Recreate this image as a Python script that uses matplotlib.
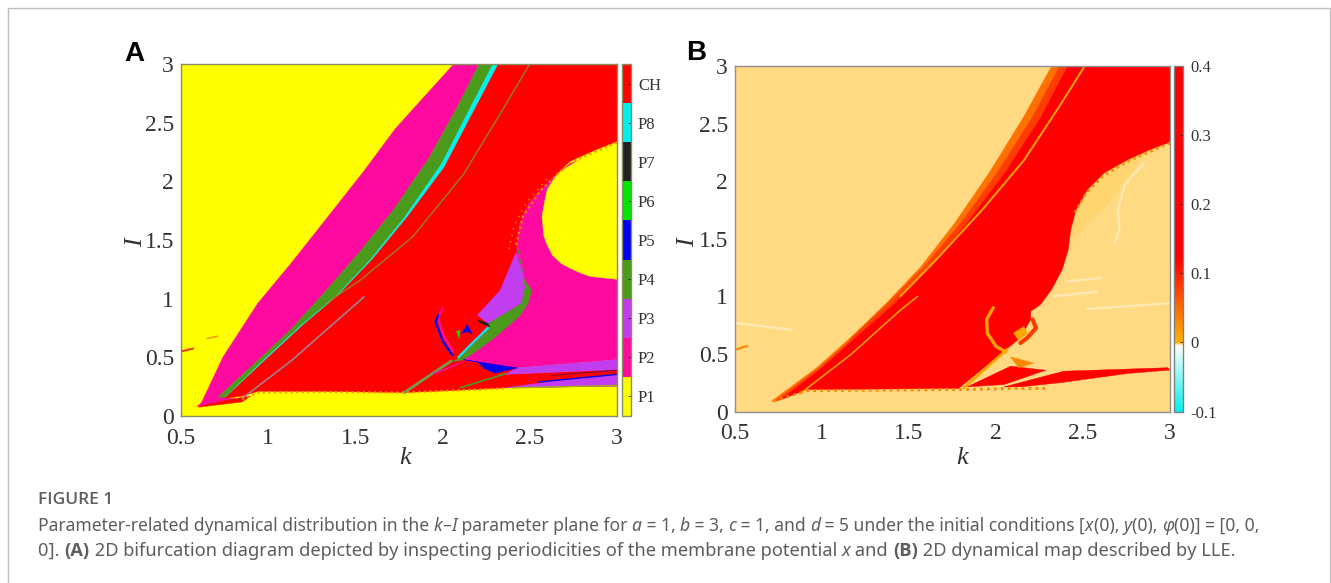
import matplotlib
matplotlib.use("Agg")
import matplotlib.pyplot as plt
import numpy as np
from matplotlib.colors import ListedColormap, BoundaryNorm, LinearSegmentedColormap, Normalize
from matplotlib.cm import ScalarMappable

plt.rcParams['font.family'] = ['Liberation Serif', 'DejaVu Serif']

W, H = 1331, 583

# panel A, colour classes
class_names = ['P1', 'P2', 'P3', 'P4', 'P5', 'P6', 'P7', 'P8', 'CH']
class_colors = ['#ffff00', '#ff0aa0', '#c23cf0', '#4c9a1c', '#0000f0', '#00e600', '#222222', '#00f0f0', '#ff0000']
P1, P2, P3, P4, P5, P6, P7, P8, CH = class_colors

# boundaries, (k, I)
p2_left = [(0.61, 0.09), (0.74, 0.5), (0.94, 0.96), (1.136, 1.31), (1.37, 1.75), (1.55, 2.09), (1.73, 2.45), (1.9, 2.73), (2.065, 3.0)]
p4_left = [(0.69, 0.13), (0.925, 0.45), (1.125, 0.73), (1.315, 1.04), (1.515, 1.38), (1.715, 1.75), (1.915, 2.18), (2.08, 2.62), (2.21, 3.0)]
p4_right = [(0.74, 0.14), (0.99, 0.50), (1.19, 0.775), (1.385, 1.015), (1.585, 1.33), (1.785, 1.70), (1.995, 2.15), (2.17, 2.66), (2.29, 3.0)]
p8_right = [(0.75, 0.15), (1.0, 0.50), (1.2, 0.775), (1.395, 1.02), (1.595, 1.33), (1.8, 1.70), (2.01, 2.12), (2.195, 2.645), (2.32, 3.0)]
p2_bottom_tip = [(0.59, 0.08), (0.64, 0.09), (0.85, 0.14), (0.72, 0.16), (0.64, 0.14)]
ch_tip = [(0.6, 0.075), (0.85, 0.12), (0.9, 0.17), (0.78, 0.14), (0.62, 0.09)]

p2_right = [(3.0, 2.3), (2.73, 2.15), (2.645, 2.05), (2.56, 1.93), (2.49, 1.81), (2.44, 1.64), (2.425, 1.47), (2.0, 0.48), (2.43, 0.41), (3.0, 0.48)]
p1_island = [(3.0, 2.33), (2.88, 2.26), (2.77, 2.17), (2.66, 2.07), (2.60, 1.93), (2.587, 1.84), (2.57, 1.70), (2.58, 1.54), (2.596, 1.47), (2.63, 1.37),
             (2.68, 1.30), (2.73, 1.26), (2.79, 1.22), (2.845, 1.19), (3.0, 1.165)]
ch_right = [(2.32, 3.0), (3.0, 3.0), (3.0, 2.34), (2.88, 2.27), (2.73, 2.17), (2.645, 2.05), (2.56, 1.93), (2.49, 1.81), (2.44, 1.64), (2.425, 1.47), (2.42, 1.39),
            (2.33, 1.07), (2.2, 0.86), (2.26, 0.78), (2.09, 0.49), (1.78, 0.2), (1.3, 0.21), (0.94, 0.21), (0.85, 0.17)]
p3_upper = [(2.42, 1.39), (2.46, 1.22), (2.47, 1.09), (2.45, 0.96), (2.32, 0.845), (2.26, 0.79), (2.2, 0.86), (2.33, 1.07)]
p4_outer = [(2.425, 1.47), (2.47, 1.16), (2.51, 1.07), (2.49, 0.96), (2.44, 0.85), (2.30, 0.67), (2.2, 0.56), (2.12, 0.48), (2.05, 0.46),
            (2.1, 0.5), (2.25, 0.72), (2.26, 0.79), (2.32, 0.845), (2.45, 0.96), (2.47, 1.09), (2.46, 1.22)]
ch_wedge = [(1.78, 0.2), (2.05, 0.46), (2.12, 0.47), (2.43, 0.41), (2.36, 0.355), (3.0, 0.40), (3.0, 0.255), (2.36, 0.24), (2.1, 0.22)]
p3_band = [(2.43, 0.41), (3.0, 0.48), (3.0, 0.395), (2.36, 0.355)]
p3_lower = [(2.36, 0.24), (2.7, 0.31), (3.0, 0.35), (3.0, 0.255)]
p5_tri = [(2.12, 0.48), (2.43, 0.41), (2.3, 0.365), (2.24, 0.405), (2.2, 0.46)]
p5_diamond = [(2.14, 0.78), (2.17, 0.70), (2.14, 0.72), (2.11, 0.70)]
p6_small = [(2.08, 0.72), (2.1, 0.73), (2.095, 0.66)]
p7_blob = [(2.2, 0.82), (2.26, 0.79), (2.27, 0.76), (2.22, 0.79)]

thin_long_a = [(2.5, 3.0), (2.32, 2.55), (2.12, 2.06), (1.83, 1.53), (1.53, 1.16), (1.33, 0.96)]
thin_short_a = [(1.55, 1.015), (1.33, 0.73), (1.14, 0.48), (0.86, 0.16)]
p8_thin = [(2.26, 0.75), (2.17, 0.62), (2.09, 0.50)]
p4_thin = [(2.05, 0.47), (1.78, 0.2)]
p4_edge = [(2.1, 0.24), (2.36, 0.36)]
p5_arc = [(1.975, 0.86), (1.96, 0.80), (2.0, 0.64), (2.055, 0.52)]
p2_arc = [(2.0, 0.92), (1.975, 0.84), (2.0, 0.70), (2.06, 0.55)]
p5_line = [(2.55, 0.29), (3.0, 0.355)]
p7_line = [(2.62, 0.345), (3.0, 0.39)]
p2_streak = [(1.95, 0.36), (2.1, 0.45)]
p4_floor = [(2.4, 0.24), (3.0, 0.26)]
ch_dash1 = [(0.5, 0.55), (0.57, 0.575)]
ch_dash2 = [(0.65, 0.66), (0.71, 0.68)]
edge_bottom_a = [(0.85, 0.14), (0.94, 0.2), (1.3, 0.205), (1.78, 0.2), (2.36, 0.235)]
edge_right_a = [(3.0, 2.33), (2.73, 2.16), (2.56, 1.92), (2.46, 1.7), (2.42, 1.45)]
edge_inner_a = [(2.6, 2.02), (2.48, 1.82), (2.41, 1.62), (2.38, 1.42)]

# panel B, LLE levels
lle_ticks = [-0.1, 0, 0.1, 0.2, 0.3, 0.4]
lle_bg = -0.0025
lle_speck = -0.00215
lle_yellow = 0.01
lle_orange = 0.03
lle_band_out = 0.045
lle_band = 0.08
lle_red = 0.3
lle_pale = -0.0035

band_left = [(0.71, 0.09), (0.97, 0.38), (1.17, 0.65), (1.37, 0.94), (1.57, 1.26), (1.76, 1.63), (1.96, 2.07), (2.16, 2.56), (2.32, 3.0)]
band_mid = [(0.73, 0.09), (0.985, 0.38), (1.185, 0.65), (1.39, 0.94), (1.6, 1.26), (1.795, 1.63), (2.005, 2.07), (2.21, 2.56), (2.365, 3.0)]
band_right = [(0.76, 0.1), (1.0, 0.38), (1.2, 0.65), (1.42, 0.94), (1.63, 1.26), (1.83, 1.63), (2.05, 2.07), (2.26, 2.56), (2.41, 3.0)]
red_b = [(2.41, 3.0), (3.0, 3.0), (3.0, 2.34), (2.88, 2.27), (2.756, 2.185), (2.62, 2.07), (2.525, 1.925), (2.46, 1.75), (2.43, 1.58), (2.415, 1.405), (2.38, 1.23),
         (2.32, 1.06), (2.257, 0.93), (2.2, 0.87), (2.2, 0.8), (2.14, 0.64), (2.06, 0.54), (1.785, 0.2), (0.91, 0.19)]
speck_b = [(3.0, 2.34), (2.85, 2.22), (2.74, 2.0), (2.62, 1.76), (2.5, 1.6), (2.42, 1.42), (2.43, 1.58), (2.46, 1.75), (2.525, 1.925), (2.62, 2.07), (2.756, 2.185), (2.88, 2.27)]
wedge_b = [(1.834, 0.214), (2.084, 0.393), (2.286, 0.358), (2.046, 0.234)]
wedge2_b = [(2.046, 0.214), (2.39, 0.35), (2.986, 0.38), (3.0, 0.36), (2.756, 0.33), (2.37, 0.25), (2.14, 0.214)]
tri_b = [(2.084, 0.474), (2.218, 0.42), (2.13, 0.38)]
arc_b = [(1.984, 0.90), (1.946, 0.80), (1.95, 0.68), (2.0, 0.566), (2.055, 0.517)]
yellow_edge_b = [(1.815, 0.205), (2.065, 0.54)]
line1_b = [(2.51, 3.0), (2.36, 2.64), (2.16, 2.18), (1.92, 1.75), (1.67, 1.34), (1.45, 1.0)]
line2_b = [(1.55, 1.0), (1.45, 0.88), (1.17, 0.5), (0.87, 0.15)]
line3_b = [(2.41, 3.0), (2.22, 2.5), (2.0, 2.0), (1.78, 1.6), (1.58, 1.24), (1.38, 0.94), (1.16, 0.62)]
edge_b = [(3.0, 2.33), (2.756, 2.17), (2.62, 2.05), (2.52, 1.9), (2.45, 1.72)]
floor_b = [(0.72, 0.09), (0.91, 0.18), (1.78, 0.19), (2.1, 0.2), (2.3, 0.2)]
ring_b = [(2.21, 0.80), (2.23, 0.725), (2.18, 0.64), (2.14, 0.595)]
hole_b = [(2.16, 0.74), (2.18, 0.68), (2.13, 0.62), (2.1, 0.68)]
streak1 = [(2.85, 2.156), (2.74, 1.97), (2.70, 1.75), (2.71, 1.58), (2.68, 1.46)]
streak2 = [(2.42, 1.13), (2.6, 1.16)]
streak3 = [(2.33, 1.0), (2.58, 1.04)]
streak4 = [(2.52, 0.89), (3.0, 0.94)]
streak5 = [(0.5, 0.77), (0.82, 0.71)]
dash_b = [(0.51, 0.54), (0.57, 0.57)]

k_ticks = [0.5, 1, 1.5, 2, 2.5, 3]
i_ticks = [0, 0.5, 1, 1.5, 2, 2.5, 3]
tick_labels_k = ['0.5', '1', '1.5', '2', '2.5', '3']
tick_labels_i = ['0', '0.5', '1', '1.5', '2', '2.5', '3']


def fill(ax, pts, color):
    xs, ys = zip(*pts)
    ax.fill(xs, ys, color=color, lw=0.3)


def line(ax, pts, color, lw, ls='-'):
    xs, ys = zip(*pts)
    ax.plot(xs, ys, color=color, lw=lw, ls=ls, solid_capstyle='round')


def px_axes(x0, x1, y0, y1):
    return fig.add_axes([x0 / W, 1 - y1 / H, (x1 - x0) / W, (y1 - y0) / H])


def style(ax, edge):
    ax.set_xlim(0.5, 3)
    ax.set_ylim(0, 3)
    ax.set_xticks(k_ticks, tick_labels_k)
    ax.set_yticks(i_ticks, tick_labels_i)
    ax.tick_params(direction='in', length=0, labelsize=17, labelcolor='#333333')
    ax.tick_params(axis='x', pad=8.5)
    ax.tick_params(axis='y', pad=5)
    for s in ax.spines.values():
        s.set_color(edge)
        s.set_linewidth(1.0)


def labels(ax, x0, x1, y0, y1, kx, ilx):
    ax.set_xlabel('k', fontsize=19, style='italic', color='#333333', va='center')
    ax.xaxis.set_label_coords((kx - x0) / (x1 - x0), -(458 - y1) / (y1 - y0))
    ax.set_ylabel('I', fontsize=19, style='italic', color='#333333', va='center')
    ax.yaxis.set_label_coords((ilx - x0) / (x1 - x0), (y1 - 243) / (y1 - y0))


fig = plt.figure(figsize=(W / 100, H / 100), dpi=100, facecolor='white')

# ---------- panel A
ax = px_axes(181, 617, 64, 416)
ax.set_facecolor(P1)
style(ax, '#8c8c5a')
fill(ax, p2_left + p4_left[::-1], P2)
fill(ax, p4_left + p4_right[::-1], P4)
fill(ax, p4_right + p8_right[::-1], P8)
fill(ax, p2_bottom_tip, P2)
fill(ax, p2_right, P2)
fill(ax, p1_island, P1)
fill(ax, ch_right + p8_right[:-1], CH)
fill(ax, ch_tip, CH)
fill(ax, p4_outer, P4)
fill(ax, p3_upper, P3)
fill(ax, ch_wedge, CH)
fill(ax, p3_band, P3)
fill(ax, p3_lower, P3)
fill(ax, p5_tri, P5)
fill(ax, p5_diamond, P5)
fill(ax, p6_small, P6)
fill(ax, p7_blob, P7)
line(ax, thin_long_a, '#8c8c20', 0.9)
line(ax, thin_short_a, '#a08090', 1.2)
line(ax, p8_thin, P8, 1.6)
line(ax, p4_thin, '#6f9a50', 2.0)
line(ax, p4_edge, P4, 1.2)
line(ax, p2_arc, P2, 1.6)
line(ax, p5_arc, P5, 1.6)
line(ax, p5_line, P5, 1.0)
line(ax, p7_line, '#701040', 0.7)
line(ax, p2_streak, P2, 1.2)
line(ax, p4_floor, '#a0b010', 1.0)
line(ax, ch_dash1, '#f04010', 1.5)
line(ax, ch_dash2, '#f0a010', 1.2)
line(ax, edge_bottom_a, '#ff9000', 1.6, (0, (1, 1.5)))
line(ax, edge_right_a, '#ff9000', 1.6, (0, (1, 1.5)))
line(ax, edge_inner_a, '#ff7000', 1.2, (0, (1, 3)))
labels(ax, 181, 617, 64, 416, 405, 136)

cax = px_axes(622, 631, 64, 416)
cmap_a = ListedColormap(class_colors)
norm_a = BoundaryNorm(np.arange(len(class_names) + 1), cmap_a.N)
cb = fig.colorbar(ScalarMappable(norm=norm_a, cmap=cmap_a), cax=cax, ticks=np.arange(len(class_names)) + 0.5, drawedges=False)
cb.ax.set_yticklabels(class_names)
cb.ax.tick_params(direction='in', length=2, width=0.6, labelsize=12, labelcolor='#333333', pad=5, color='#222222')
cb.ax.minorticks_off()
cb.outline.set_edgecolor('#8c8c5a')
cb.outline.set_linewidth(1.0)

# ---------- panel B
cmap_b = LinearSegmentedColormap.from_list(
    'lle', [(0.0, '#00f0f0'), (0.19, '#ffffff'), (0.2, '#ffb400'), (0.44, '#ff0000'), (1.0, '#ff0000')], N=4096)
norm_b = Normalize(-0.1, 0.4)
c = lambda v: cmap_b(norm_b(v))

ax2 = px_axes(735, 1170, 66, 411.5)
ax2.set_facecolor(c(lle_bg))
style(ax2, '#909090')
fill(ax2, speck_b, c(lle_speck))
fill(ax2, band_left + band_mid[::-1], c(lle_band_out))
fill(ax2, band_mid + band_right[::-1], c(lle_band))
fill(ax2, red_b + band_right[:-1], c(lle_red))
fill(ax2, wedge_b, c(lle_red))
fill(ax2, wedge2_b, c(lle_red))
fill(ax2, tri_b, c(lle_orange))
line(ax2, yellow_edge_b, c(lle_yellow), 2.0)
line(ax2, arc_b, c(lle_yellow), 2.4)
line(ax2, ring_b, c(lle_band), 3.0)
fill(ax2, hole_b, c(lle_yellow))
line(ax2, line1_b, c(lle_yellow), 1.4)
line(ax2, line2_b, c(lle_yellow), 1.1)
line(ax2, line3_b, c(lle_band), 0.8)
line(ax2, edge_b, c(lle_orange), 1.8, (0, (1, 1.5)))
line(ax2, floor_b, c(lle_orange), 2.0, (0, (1, 1.5)))
for s in (streak1, streak2, streak3, streak4, streak5):
    line(ax2, s, c(lle_pale), 1.6)
line(ax2, dash_b, c(lle_orange), 1.6)
labels(ax2, 735, 1170, 66, 411.5, 962, 688)

cax2 = px_axes(1174, 1183, 66, 411.5)
cb2 = fig.colorbar(ScalarMappable(norm=norm_b, cmap=cmap_b), cax=cax2, ticks=lle_ticks)
cb2.ax.set_yticklabels(['-0.1', '0', '0.1', '0.2', '0.3', '0.4'])
cb2.ax.tick_params(direction='in', length=2, width=0.6, labelsize=12, labelcolor='#333333', pad=5, color='#222222')
cb2.outline.set_edgecolor('#808080')
cb2.outline.set_linewidth(1.0)

# panel letters
fig.text(124 / W, 1 - 61 / H, 'A', family='Liberation Sans', weight='bold', fontsize=20, color='black')
fig.text(686 / W, 1 - 60 / H, 'B', family='Liberation Sans', weight='bold', fontsize=20, color='black')

# caption, written run by run so italics and bold sit in the same line
cap = '#5e5e5e'
r = fig.canvas.get_renderer()


def run_line(x, y, size, runs):
    for txt, kw in runs:
        kw = {'family': 'Noto Sans', **kw}
        fig.text(x / W, 1 - y / H, txt, fontsize=size, color=cap, va='center', **kw)
        probe = fig.text(0, 0, txt + '|', fontsize=size, **kw)
        bar = fig.text(0, 0, '|', fontsize=size, **kw)
        x += probe.get_window_extent(r).width - bar.get_window_extent(r).width
        probe.remove()
        bar.remove()


n, it, bd = {}, {'style': 'italic'}, {'weight': 'bold', 'family': 'Open Sans'}
fig.text(38 / W, 1 - 500 / H, 'FIGURE 1', family='Open Sans', weight='semibold', fontsize=12.5, color=cap, va='center')
run_line(38, 526, 12.6, [('Parameter-related dynamical distribution in the ', n), ('k', it), ('–', n), ('I', it),
                         (' parameter plane for ', n), ('a', it), (' = 1, ', n), ('b', it), (' = 3, ', n), ('c', it),
                         (' = 1, and ', n), ('d', it), (' = 5 under the initial conditions [', n), ('x', it), ('(0), ', n),
                         ('y', it), ('(0), ', n), ('φ', it), ('(0)] = [0, 0,', n)])
run_line(38, 551, 13.2, [('0]. ', n), ('(A)', bd), (' 2D bifurcation diagram depicted by inspecting periodicities of the membrane potential ', n),
                         ('x', it), (' and ', n), ('(B)', bd), (' 2D dynamical map described by LLE.', n)])

# page frame
fig.add_artist(plt.Line2D([7.5 / W, 7.5 / W, 1330 / W, 1330 / W], [0, 1 - 7.5 / H, 1 - 7.5 / H, 0], color='#c0c0c0', lw=1))

fig.savefig('out.png', dpi=100)
